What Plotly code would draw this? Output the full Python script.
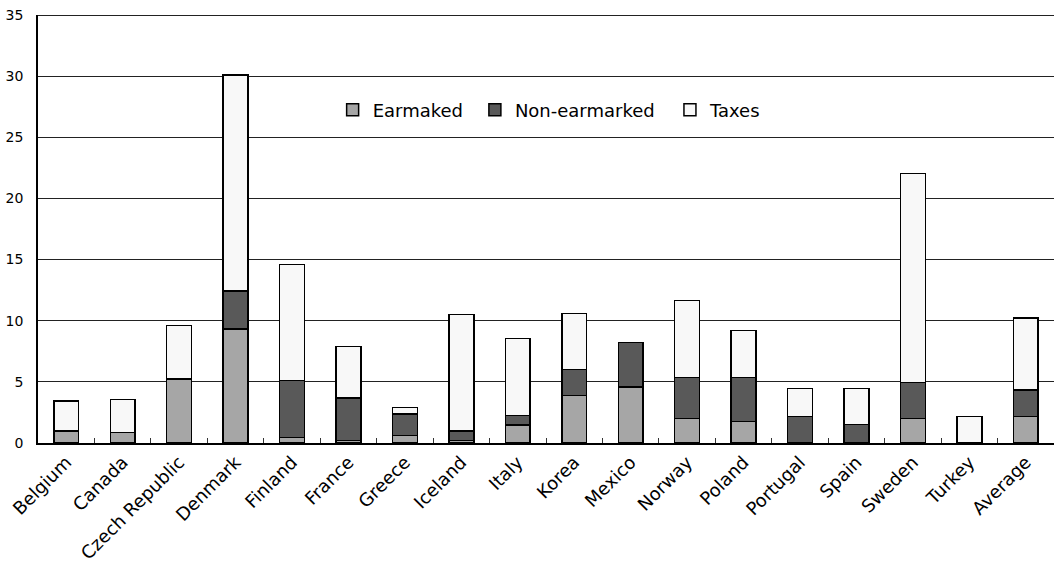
import plotly.graph_objects as go

countries = ["Belgium", "Canada", "Czech Republic", "Denmark", "Finland", "France",
             "Greece", "Iceland", "Italy", "Korea", "Mexico", "Norway", "Poland",
             "Portugal", "Spain", "Sweden", "Turkey", "Average"]
earmarked = [0.98, 0.84, 5.23, 9.32, 0.46, 0.19, 0.60, 0.19, 1.47, 3.90, 4.58, 1.99, 1.74, 0.0, 0.0, 2.02, 0.0, 2.15]
non_earmarked = [0.0, 0.0, 0.0, 3.11, 4.67, 3.51, 1.77, 0.81, 0.79, 2.13, 3.62, 3.35, 3.60, 2.15, 1.50, 2.91, 0.0, 2.18]
taxes = [2.45, 2.73, 4.37, 17.67, 9.47, 4.20, 0.55, 9.50, 6.30, 4.57, 0.0, 6.30, 3.84, 2.29, 2.94, 17.12, 2.15, 5.89]

font_family = "DejaVu Sans, Verdana, sans-serif"
line = dict(color="#000000", width=1.5)

fig = go.Figure()
fig.add_trace(go.Bar(name="Earmaked", x=countries, y=earmarked, legend="legend", showlegend=True,
                     marker=dict(color="#a6a6a6", line=line), width=0.44))
fig.add_trace(go.Bar(name="Non-earmarked", x=countries, y=non_earmarked, legend="legend2", showlegend=True,
                     marker=dict(color="#595959", line=line), width=0.44))
fig.add_trace(go.Bar(name="Taxes", x=countries, y=taxes, legend="legend3", showlegend=True,
                     marker=dict(color="#f8f8f8", line=line), width=0.44))

leg_common = dict(orientation="h", y=0.778, xanchor="left", yanchor="middle",
                  font=dict(size=18, family=font_family), bgcolor="rgba(0,0,0,0)",
                  itemwidth=30, visible=True)

fig.update_layout(
    barmode="stack",
    showlegend=True,
    width=1054, height=573,
    margin=dict(l=38, r=0, t=15, b=130),
    paper_bgcolor="white", plot_bgcolor="white",
    font=dict(family=font_family, color="#000000"),
    legend=dict(x=0.290, **leg_common),
    legend2=dict(x=0.430, **leg_common),
    legend3=dict(x=0.622, **leg_common),
    xaxis=dict(type="category", tickangle=-45, tickfont=dict(size=18),
               showline=True, linecolor="#000000", linewidth=1.5,
               ticks="inside", tickson="boundaries", ticklen=5, tickcolor="#333333",
               showgrid=False, automargin=False),
    yaxis=dict(range=[0, 35], dtick=5, tickfont=dict(size=14),
               showline=True, linecolor="#000000", linewidth=1.5,
               showgrid=True, gridcolor="#222222", gridwidth=1,
               zeroline=False, ticks="", ticklabelstandoff=10, automargin=False),
)
# top border at 35
fig.add_shape(type="line", xref="paper", yref="y", x0=0, x1=1, y0=35, y1=35,
              line=dict(color="#222222", width=2))

fig.write_html("out.html", config={"displayModeBar": False},
               post_script="document.body.style.margin='0px';")
